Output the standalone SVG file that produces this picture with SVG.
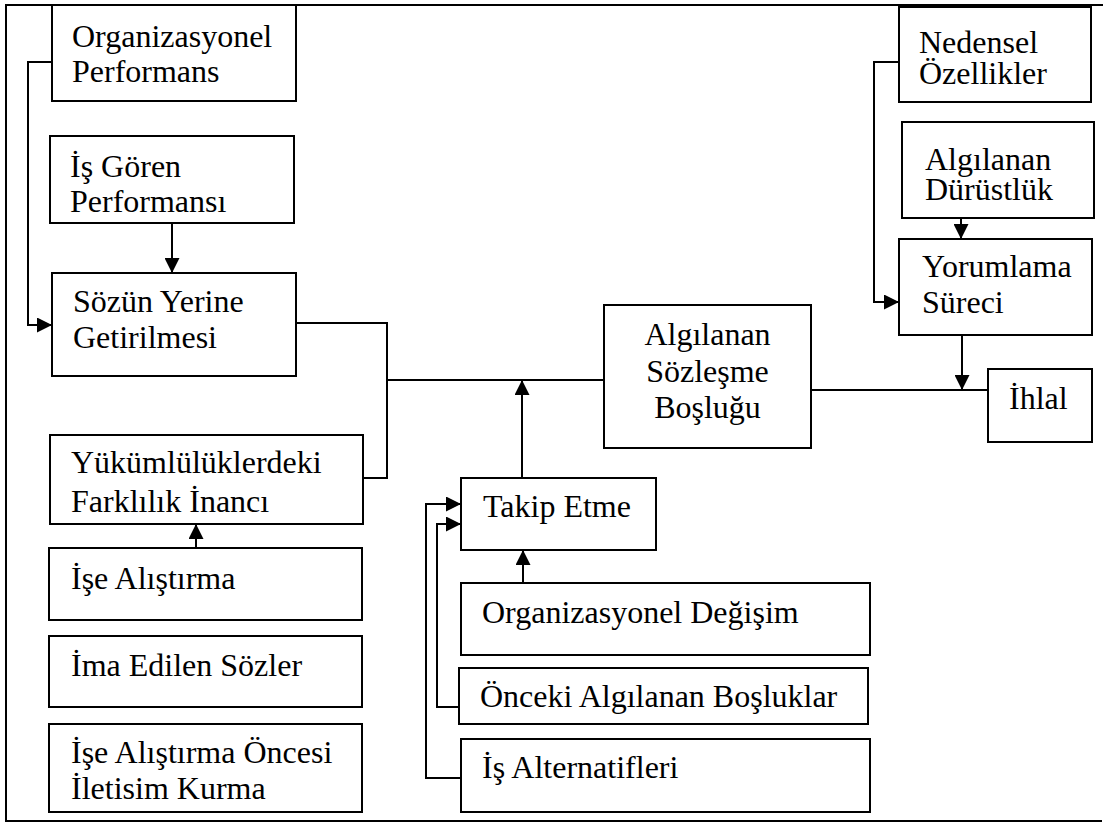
<svg xmlns="http://www.w3.org/2000/svg" width="1103" height="823" viewBox="0 0 1103 823">
  <defs>
    <marker id="arrow" viewBox="0 0 10 10" refX="10" refY="5" markerWidth="15" markerHeight="15" markerUnits="userSpaceOnUse" orient="auto">
      <path d="M0,0 L10,5 L0,10 Z" fill="#000"/>
    </marker>
    <style>
      .box { fill: #fff; stroke: #000; stroke-width: 2; }
      .mid { text-anchor: middle; }
      .ln { fill: none; stroke: #000; stroke-width: 2; }
      .arr { fill: none; stroke: #000; stroke-width: 2; marker-end: url(#arrow); }
    </style>
  </defs>
  <rect width="1103" height="823" fill="#fff"/>
  <!-- outer frame (open on the right) -->
  <path class="ln" d="M1103,5 L6,5 L6,821 L1102,821"/>

  <g id="connectors">
    <!-- Organizasyonel Performans -> Sözün Yerine Getirilmesi -->
    <path class="arr" d="M52,62 L28,62 L28,325 L52,325"/>
    <!-- İş Gören Performansı -> Sözün Yerine Getirilmesi -->
    <path class="arr" d="M172,223 L172,273"/>
    <!-- Sözün / Yükümlülükler bracket into the gap line -->
    <path class="ln" d="M296,323 L387,323 L387,478 L363,478"/>
    <path class="ln" d="M387,380 L604,380"/>
    <!-- Takip Etme -> gap line -->
    <path class="arr" d="M522,478 L522,380"/>
    <!-- İşe Alıştırma -> Yükümlülüklerdeki Farklılık İnancı -->
    <path class="arr" d="M196,548 L196,524"/>
    <!-- Organizasyonel Değişim -> Takip Etme -->
    <path class="arr" d="M523,583 L523,550"/>
    <!-- Önceki Algılanan Boşluklar -> Takip Etme -->
    <path class="arr" d="M459,707 L437,707 L437,524 L461,524"/>
    <!-- İş Alternatifleri -> Takip Etme -->
    <path class="arr" d="M461,778 L426,778 L426,504 L461,504"/>
    <!-- Nedensel Özellikler -> Yorumlama Süreci -->
    <path class="arr" d="M899,62 L874,62 L874,302 L899,302"/>
    <!-- Algılanan Dürüstlük -> Yorumlama Süreci -->
    <path class="arr" d="M961,218 L961,239"/>
    <!-- Algılanan Sözleşme Boşluğu -> İhlal -->
    <path class="ln" d="M811,390 L988,390"/>
    <!-- Yorumlama Süreci -> İhlal line -->
    <path class="arr" d="M962,335 L962,390"/>
  </g>

  <g id="nodes" font-family="Liberation Serif, serif" font-size="32" fill="#000">
    <g id="org-performans">
      <rect class="box" x="52" y="5" width="244" height="96"/>
      <text x="72" y="47">Organizasyonel</text>
      <text x="72" y="82">Performans</text>
    </g>
    <g id="is-goren-performansi">
      <rect class="box" x="50" y="136" width="244" height="87"/>
      <text x="70" y="177">İş Gören</text>
      <text x="70" y="212">Performansı</text>
    </g>
    <g id="sozun-yerine-getirilmesi">
      <rect class="box" x="52" y="273" width="244" height="103"/>
      <text x="73" y="312">Sözün Yerine</text>
      <text x="73" y="348">Getirilmesi</text>
    </g>
    <g id="yukumlulukler">
      <rect class="box" x="50" y="435" width="313" height="89"/>
      <text x="71" y="473">Yükümlülüklerdeki</text>
      <text x="71" y="512">Farklılık İnancı</text>
    </g>
    <g id="ise-alistirma">
      <rect class="box" x="49" y="548" width="313" height="72"/>
      <text x="71" y="589">İşe Alıştırma</text>
    </g>
    <g id="ima-edilen-sozler">
      <rect class="box" x="49" y="636" width="313" height="71"/>
      <text x="71" y="676">İma Edilen Sözler</text>
    </g>
    <g id="ise-alistirma-oncesi">
      <rect class="box" x="49" y="724" width="313" height="88"/>
      <text x="71" y="763">İşe Alıştırma Öncesi</text>
      <text x="71" y="799">İletisim Kurma</text>
    </g>
    <g id="algilanan-sozlesme-boslugu">
      <rect class="box" x="604" y="305" width="207" height="143"/>
      <text class="mid" x="707.5" y="345">Algılanan</text>
      <text class="mid" x="707.5" y="382">Sözleşme</text>
      <text class="mid" x="707.5" y="418">Boşluğu</text>
    </g>
    <g id="takip-etme">
      <rect class="box" x="461" y="478" width="195" height="72"/>
      <text x="483" y="517">Takip Etme</text>
    </g>
    <g id="organizasyonel-degisim">
      <rect class="box" x="461" y="583" width="409" height="72"/>
      <text x="482" y="623">Organizasyonel Değişim</text>
    </g>
    <g id="onceki-algilanan-bosluklar">
      <rect class="box" x="459" y="668" width="409" height="56"/>
      <text x="480" y="707">Önceki Algılanan Boşluklar</text>
    </g>
    <g id="is-alternatifleri">
      <rect class="box" x="461" y="739" width="409" height="73"/>
      <text x="482" y="778">İş Alternatifleri</text>
    </g>
    <g id="nedensel-ozellikler">
      <rect class="box" x="899" y="7" width="192" height="95"/>
      <text x="919" y="53">Nedensel</text>
      <text x="919" y="84">Özellikler</text>
    </g>
    <g id="algilanan-durustluk">
      <rect class="box" x="902" y="122" width="192" height="96"/>
      <text x="925" y="170">Algılanan</text>
      <text x="925" y="200">Dürüstlük</text>
    </g>
    <g id="yorumlama-sureci">
      <rect class="box" x="899" y="239" width="193" height="96"/>
      <text x="922" y="277">Yorumlama</text>
      <text x="922" y="313">Süreci</text>
    </g>
    <g id="ihlal">
      <rect class="box" x="988" y="369" width="104" height="73"/>
      <text x="1009" y="409">İhlal</text>
    </g>
  </g>
</svg>
